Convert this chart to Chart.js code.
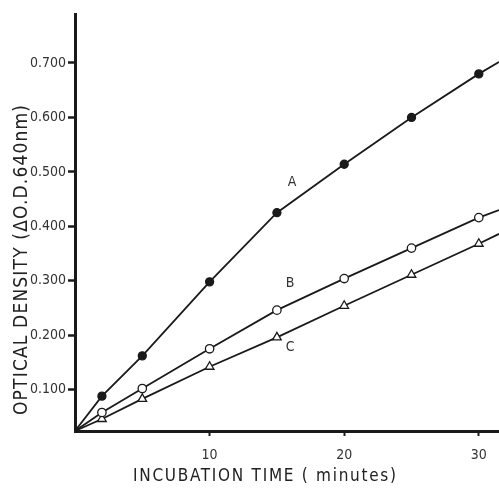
<!DOCTYPE html>
<html lang="en">
<head>
<meta charset="UTF-8">
<title>Optical density vs incubation time</title>
<script src="https://cdn.jsdelivr.net/npm/chart.js"></script>
<style>
  body { margin: 0; background: #fff; }
</style>
</head>
<body>
<canvas id="myChart" width="499" height="488"></canvas>
<script>
// values (first point = origin, last = where the line leaves the frame)
const times = [0, 2, 5, 10, 15, 20, 25, 30, 31.5];
const seriesA = [0.024, 0.088, 0.162, 0.298, 0.425, 0.514, 0.600, 0.680, 0.702];
const seriesB = [0.024, 0.058, 0.102, 0.175, 0.246, 0.304, 0.360, 0.416, 0.430];
const seriesC = [0.024, 0.046, 0.083, 0.142, 0.196, 0.254, 0.311, 0.368, 0.386];
const xTicks = [10, 20, 30];
const yTicks = [0.1, 0.2, 0.3, 0.4, 0.5, 0.6, 0.7];
const curveNames = ['A', 'B', 'C'];

const ink = '#1a1a1a';
const NARROW = "'Liberation Sans Narrow', 'DejaVu Sans Condensed', sans-serif";
const COND = "'DejaVu Sans Condensed', 'DejaVu Sans', sans-serif";

function pts(ys) {
    return times.map((t, i) => ({ x: t, y: ys[i] }));
}
function marker(ctx) {
    const n = ctx.dataset.data.length;
    return (ctx.dataIndex === 0 || ctx.dataIndex === n - 1) ? 0 : undefined;
}

// spaced text drawn to fill a given width
function spacedText(ctx, text, cx, cy, width) {
    ctx.letterSpacing = '0px';
    const w = ctx.measureText(text).width;
    const sp = (width - w) / (text.length - 1);
    ctx.letterSpacing = sp + 'px';
    const w2 = ctx.measureText(text).width;
    ctx.fillText(text, cx - (w2 - sp) / 2, cy);
    ctx.letterSpacing = '0px';
}

const extras = {
    id: 'extras',
    afterDraw(chart) {
        const ctx = chart.ctx;
        const xs = chart.scales.x, ys = chart.scales.y;
        ctx.save();
        ctx.fillStyle = '#333';
        ctx.textBaseline = 'middle';
        ctx.textAlign = 'left';

        // curve labels
        ctx.font = '14px ' + NARROW;
        const labelPos = [[16.1, 0.480], [15.95, 0.296], [15.95, 0.178]];
        curveNames.forEach((n, i) => {
            const px = xs.getPixelForValue(labelPos[i][0]);
            const py = ys.getPixelForValue(labelPos[i][1]);
            ctx.fillText(n, px - 4, py);
        });

        // axis titles
        ctx.fillStyle = '#222';
        ctx.font = '17px ' + COND;
        spacedText(ctx, 'INCUBATION TIME ( minutes)', 264.5, 477, 263);

        ctx.translate(22, 260);
        ctx.rotate(-Math.PI / 2);
        ctx.font = '19px ' + COND;
        spacedText(ctx, 'OPTICAL DENSITY (\u0394O.D.640nm)', 0, 0, 310);
        ctx.restore();
    }
};

const common = {
    borderColor: ink,
    borderWidth: 1.8,
    pointBorderColor: ink,
    pointBorderWidth: 1.3,
    tension: 0,
    clip: false
};

new Chart(document.getElementById('myChart'), {
    type: 'line',
    data: {
        datasets: [{
            ...common,
            label: curveNames[0],
            data: pts(seriesA),
            pointStyle: 'circle',
            pointBackgroundColor: ink,
            pointRadius: c => marker(c) ?? 4
        }, {
            ...common,
            label: curveNames[1],
            data: pts(seriesB),
            pointStyle: 'circle',
            pointBackgroundColor: '#fff',
            pointRadius: c => marker(c) ?? 4.2
        }, {
            ...common,
            label: curveNames[2],
            data: pts(seriesC),
            pointStyle: 'triangle',
            pointBackgroundColor: '#fff',
            pointRadius: c => marker(c) ?? 5
        }]
    },
    options: {
        responsive: false,
        animation: false,
        layout: { padding: { top: 14, right: 0, left: 0, bottom: 0 } },
        plugins: { legend: { display: false }, tooltip: { enabled: false } },
        scales: {
            x: {
                type: 'linear',
                min: 0,
                max: 31.5,
                afterFit: s => { s.height = 57; },
                afterBuildTicks: s => { s.ticks = xTicks.map(v => ({ value: v })); },
                border: { display: true, width: 3, color: ink },
                grid: { drawOnChartArea: false, drawTicks: true, tickLength: 5, tickColor: ink, tickWidth: 2 },
                ticks: { color: '#333', padding: 11, font: { family: NARROW, size: 14 } }
            },
            y: {
                type: 'linear',
                min: 0.024,
                max: 0.79,
                afterFit: s => { s.width = 75; },
                afterBuildTicks: s => { s.ticks = yTicks.map(v => ({ value: v })); },
                border: { display: true, width: 3, color: ink },
                grid: { drawOnChartArea: false, drawTicks: true, tickLength: 7, tickColor: ink, tickWidth: 2.5 },
                ticks: {
                    color: '#333', padding: 2, font: { family: NARROW, size: 14 },
                    callback: v => v.toFixed(3)
                }
            }
        }
    },
    plugins: [extras]
});
</script>
</body>
</html>
